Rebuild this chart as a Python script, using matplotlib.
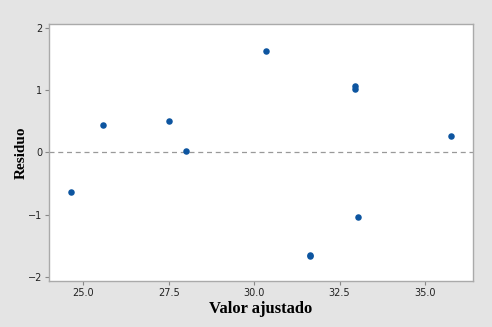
import matplotlib.pyplot as plt

# valores ajustados e residuos
ajustado = [24.65, 25.58, 27.51, 28.01, 30.35, 32.94, 32.96, 35.76, 31.64, 31.65, 33.03]
residuo = [-0.63, 0.44, 0.50, 0.02, 1.64, 1.07, 1.03, 0.27, -1.65, -1.67, -1.04]
xticks = [25.0, 27.5, 30.0, 32.5, 35.0]
yticks = [-2, -1, 0, 1, 2]

fig = plt.figure(figsize=(4.92, 3.27), dpi=100)
fig.patch.set_facecolor('#e4e4e4')
ax = fig.add_axes([0.0996, 0.1407, 0.8614, 0.7859])
ax.set_facecolor('white')

ax.scatter(ajustado, residuo, s=22, color='#0d55a0', zorder=3, linewidths=0)
ax.axhline(0, color='#999999', linestyle=(0, (4, 3)), linewidth=0.9, zorder=2)

ax.set_xlim(24.0, 36.4)
ax.set_ylim(-2.07, 2.07)
ax.set_xticks(xticks)
ax.set_xticklabels(['%.1f' % v for v in xticks])
ax.set_yticks(yticks)
ax.tick_params(labelsize=7, length=3, color='#888888', pad=2, labelcolor='#222222')

for s in ax.spines.values():
    s.set_color('#aaaaaa')
    s.set_linewidth(1)

ax.set_xlabel('Valor ajustado', family='Liberation Serif', fontweight='bold', fontsize=12, labelpad=2)
ax.set_ylabel('Residuo', family='Liberation Serif', fontweight='bold', fontsize=11, labelpad=0)

fig.savefig('out.png', dpi=100, facecolor=fig.get_facecolor())
